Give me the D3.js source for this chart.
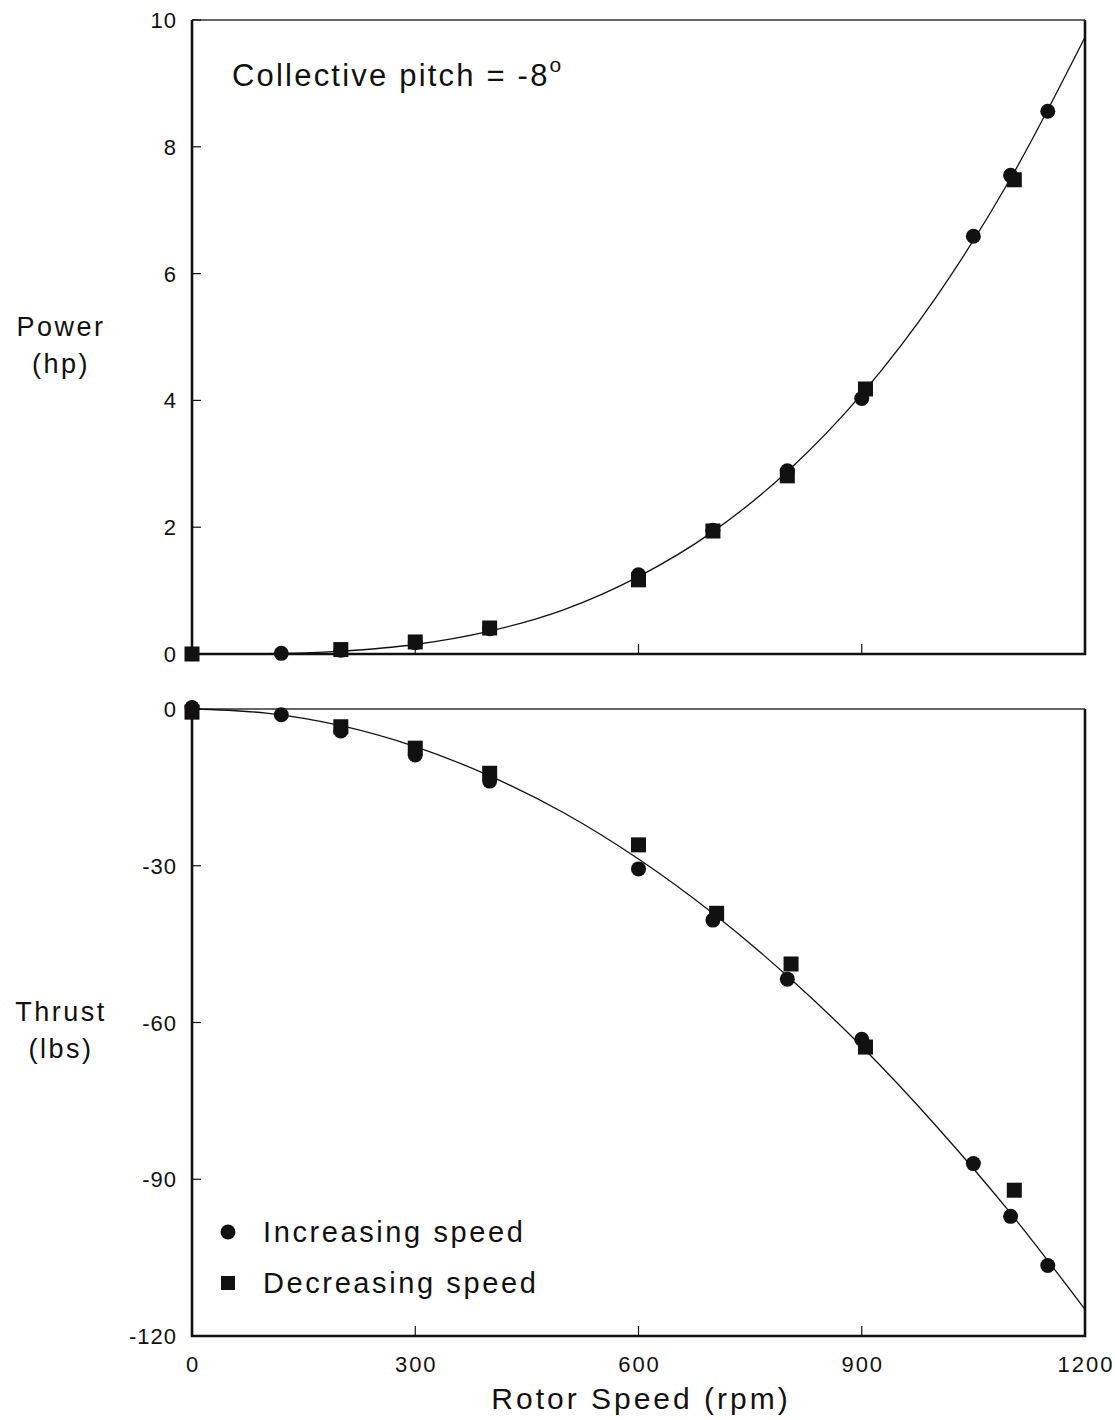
<!doctype html>
<html>
  <head>
    <script src="https://cdn.jsdelivr.net/npm/d3@7"></script>
    <style>
      body { margin: 0; background: #fff; }
      text { font-family: "Liberation Sans", Arial, sans-serif; fill: #111; }
    </style>
  </head>
  <body>
    <svg id="chart" width="1115" height="1420"></svg>

    <script>
      // rotor speed (rpm) ticks and points
      var xTicks = [0, 300, 600, 900, 1200];
      var powerTicks = [0, 2, 4, 6, 8, 10];
      var thrustTicks = [0, -30, -60, -90, -120];

      // power (hp), increasing speed (circles)
      var powerUpRpm = [120, 200, 300, 400, 600, 700, 800, 900, 1050, 1100, 1150];
      var powerUp    = [0.01, 0.06, 0.18, 0.40, 1.25, 1.95, 2.89, 4.03, 6.59, 7.55, 8.56];
      // power (hp), decreasing speed (squares)
      var powerDownRpm = [0, 200, 300, 400, 600, 700, 800, 905, 1105];
      var powerDown    = [0, 0.07, 0.19, 0.41, 1.17, 1.94, 2.81, 4.18, 7.48];

      // thrust (lbs), increasing speed
      var thrustUpRpm = [0, 120, 200, 300, 400, 600, 700, 800, 900, 1050, 1100, 1150];
      var thrustUp    = [0.3, -1.1, -4.2, -8.8, -13.8, -30.6, -40.4, -51.7, -63.2, -87.0, -97.1, -106.5];
      // thrust (lbs), decreasing speed
      var thrustDownRpm = [0, 200, 300, 400, 600, 705, 805, 905, 1105];
      var thrustDown    = [-0.6, -3.4, -7.5, -12.3, -26.0, -39.1, -48.8, -64.7, -92.1];

      // fitted curves
      var curveRpm    = [0, 100, 200, 300, 400, 500, 600, 700, 800, 900, 1000, 1100, 1200];
      var powerCurve  = [0, 0.006, 0.045, 0.15, 0.36, 0.70, 1.22, 1.93, 2.88, 4.10, 5.63, 7.50, 9.73];
      var thrustCurve = [0, -0.8, -3.2, -7.2, -12.8, -19.9, -28.7, -39.1, -51.1, -64.6, -79.8, -96.5, -114.9];

      var svg = d3.select("#chart");
      var left = 192, right = 1085;

      var x = d3.scaleLinear().domain([0, 1200]).range([left, right]);
      var yP = d3.scaleLinear().domain([0, 10]).range([654, 20]);
      var yT = d3.scaleLinear().domain([-120, 0]).range([1336, 709]);

      function panel(y, yTicks, curve, upX, upY, downX, downY, showX) {
        var g = svg.append("g");
        var top = y.range()[1], bottom = y.range()[0];

        // frame: top edge thinner, the others heavier
        g.append("line")
          .attr("x1", left).attr("x2", right).attr("y1", top).attr("y2", top)
          .attr("stroke", "#333").attr("stroke-width", 1.6);
        g.append("path")
          .attr("d", "M" + left + "," + top + "V" + bottom + "H" + right + "V" + top)
          .attr("fill", "none").attr("stroke", "#111").attr("stroke-width", 2.6);

        // y ticks (inward)
        g.selectAll(".yt").data(yTicks).enter().append("line")
          .attr("x1", left).attr("x2", left + 9)
          .attr("y1", function(d) { return y(d); })
          .attr("y2", function(d) { return y(d); })
          .attr("stroke", "#111").attr("stroke-width", 1.2);
        g.selectAll(".yl").data(yTicks).enter().append("text")
          .attr("x", 177)
          .attr("y", function(d) { return y(d) + 8; })
          .attr("text-anchor", "end")
          .attr("font-size", 22).attr("letter-spacing", 1)
          .text(function(d) { return d; });

        // x ticks (inward, up from the bottom)
        g.selectAll(".xt").data(xTicks.slice(1, 4)).enter().append("line")
          .attr("x1", function(d) { return x(d); })
          .attr("x2", function(d) { return x(d); })
          .attr("y1", bottom).attr("y2", bottom - 10)
          .attr("stroke", "#111").attr("stroke-width", 1.2);

        if (showX) {
          g.selectAll(".xl").data(xTicks).enter().append("text")
            .attr("x", function(d) { return x(d) + 1; })
            .attr("y", bottom + 36)
            .attr("text-anchor", "middle")
            .attr("font-size", 22).attr("letter-spacing", 2)
            .text(function(d) { return d; });
        }

        // fitted curve
        var line = d3.line()
          .x(function(d, i) { return x(curveRpm[i]); })
          .y(function(d) { return y(d); })
          .curve(d3.curveMonotoneX);
        g.append("path")
          .datum(curve)
          .attr("d", line)
          .attr("fill", "none").attr("stroke", "#111").attr("stroke-width", 1.3);

        // squares
        g.selectAll(".sq").data(downY).enter().append("rect")
          .attr("x", function(d, i) { return x(downX[i]) - 7.5; })
          .attr("y", function(d) { return y(d) - 7.5; })
          .attr("width", 15).attr("height", 15)
          .attr("fill", "#111");

        // circles
        g.selectAll(".ci").data(upY).enter().append("circle")
          .attr("cx", function(d, i) { return x(upX[i]); })
          .attr("cy", function(d) { return y(d); })
          .attr("r", 7.5)
          .attr("fill", "#111");
      }

      panel(yP, powerTicks, powerCurve, powerUpRpm, powerUp, powerDownRpm, powerDown, false);
      panel(yT, thrustTicks, thrustCurve, thrustUpRpm, thrustUp, thrustDownRpm, thrustDown, true);

      // annotation
      var note = svg.append("text")
        .attr("x", 232).attr("y", 86)
        .attr("font-size", 31).attr("letter-spacing", 2.2)
        .text("Collective pitch = -8");
      note.append("tspan").attr("dy", -14).attr("font-size", 21).attr("letter-spacing", 0).text("o");

      // y labels
      function ylabel(lines, base) {
        svg.selectAll(null).data(lines).enter().append("text")
          .attr("x", 61)
          .attr("y", function(d, i) { return base + i * 37; })
          .attr("text-anchor", "middle")
          .attr("font-size", 27).attr("letter-spacing", 2.5)
          .text(function(d) { return d; });
      }
      ylabel(["Power", "(hp)"], 336);
      ylabel(["Thrust", "(lbs)"], 1021);

      // x label
      svg.append("text")
        .attr("x", 641).attr("y", 1409)
        .attr("text-anchor", "middle")
        .attr("font-size", 30).attr("letter-spacing", 3)
        .text("Rotor Speed (rpm)");

      // legend
      svg.append("circle").attr("cx", 228).attr("cy", 1232).attr("r", 7.5).attr("fill", "#111");
      svg.append("rect").attr("x", 221).attr("y", 1276).attr("width", 14).attr("height", 14).attr("fill", "#111");
      svg.append("text").attr("x", 263).attr("y", 1242)
        .attr("font-size", 29).attr("letter-spacing", 2.6).text("Increasing speed");
      svg.append("text").attr("x", 263).attr("y", 1293)
        .attr("font-size", 29).attr("letter-spacing", 2.6).text("Decreasing speed");
    </script>
  </body>
</html>
